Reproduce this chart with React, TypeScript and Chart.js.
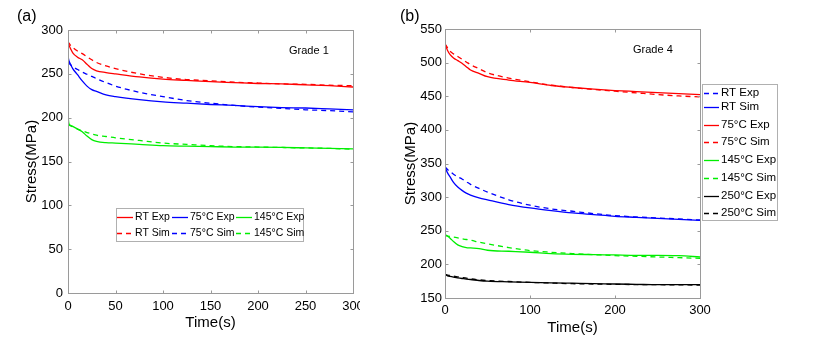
import React, { useEffect, useRef } from 'react';
import { Chart, registerables } from 'chart.js';
Chart.register(...registerables);

const FONT = "'Liberation Sans', Arial, Helvetica, sans-serif";
const AXIS_COLOR = '#9a9a9a';
const RED = '#ff0000';
const BLUE = '#0000ff';
const GREEN = '#00ee00';
const BLACK = '#000000';
const DASH = [5, 4];

// ---------- Panel (a): Grade 1 ----------
const timeA = [0, 1, 3, 5, 10, 15, 20, 25, 30, 40, 50, 75, 100, 125, 150, 175, 200, 225, 250, 275, 300];
const g1RtExp = [287, 283, 278, 274, 269, 266, 261, 256, 253.5, 251.5, 250, 246.5, 244, 242.5, 241, 240, 239, 238.5, 237.5, 236.5, 235];
const g1RtSim = [287, 285, 282, 280, 276, 273, 269.5, 266, 263, 259, 256, 250, 246, 243.5, 242, 240.5, 239.5, 238.5, 238, 237, 236.5];
const g1T75Exp = [270, 265, 260, 256, 249, 242, 236, 232, 230, 226, 224, 220.5, 218, 216.5, 215, 214, 212.5, 211.5, 211, 210, 209];
const g1T75Sim = [263, 262, 260, 258, 255, 252, 249.5, 247, 244.5, 240, 236, 229, 224, 219.5, 216.5, 214, 212, 210.5, 209, 208, 206.5];
const g1T145Exp = [203, 193, 191, 190, 187, 184, 179, 175, 173, 171.5, 171, 169.5, 168, 167.5, 167, 166.5, 166.3, 166, 165.5, 165, 164.5];
const g1T145Sim = [192, 191.5, 190.5, 189.5, 187, 185, 183, 181.5, 180, 178.5, 177, 174, 171, 169.5, 168, 167, 166.5, 166, 165.5, 165, 164];
const labelsA = ['RT Exp', 'RT Sim', '75°C Exp', '75°C Sim', '145°C Exp', '145°C Sim'];
const xTicksA = [0, 50, 100, 150, 200, 250, 300];
const yTicksA = [0, 50, 100, 150, 200, 250, 300];

// ---------- Panel (b): Grade 4 ----------
const timeB = [0, 3, 6, 10, 15, 20, 25, 30, 40, 50, 75, 100, 125, 150, 175, 200, 225, 250, 275, 300];
const g4RtExp = [345, 341, 338, 334, 330, 327, 323, 319, 313, 307.5, 296, 288, 282.5, 279, 275.5, 272.5, 270.5, 269, 267.5, 266];
const g4RtSim = [345, 336, 330, 322, 315, 310, 306, 303, 299, 296, 289, 284, 280, 276.5, 274, 271.5, 270, 268.5, 267, 265.5];
const g4T75Exp = [528, 518, 512, 507, 503, 499, 494, 489, 484, 479, 474, 470.5, 466, 463, 460.5, 458.5, 457, 455.5, 454, 452.5];
const g4T75Sim = [528, 522, 517, 513, 509, 505, 501, 497, 491, 485, 477, 471.5, 466.5, 463, 460, 457.5, 455, 452.5, 450.5, 449];
const g4T145Exp = [244, 242, 239, 234, 229, 226.5, 225, 224.5, 223.5, 221, 219.5, 218, 216, 215, 214.5, 214, 213.5, 213.5, 213, 211];
const g4T145Sim = [243, 242, 241.5, 240.5, 239.5, 238, 237, 236, 233, 230.5, 225, 220.5, 218, 216, 214.5, 213, 212, 211, 210, 209];
const g4T250Exp = [185, 183, 182, 181, 180, 179, 178, 177.5, 176, 175, 174, 173.2, 172.5, 172, 171.5, 170.8, 170.3, 169.8, 169.8, 169.8];
const g4T250Sim = [185, 184, 183.5, 182.5, 181.5, 180.5, 179.5, 178.5, 177, 176, 174.5, 173.2, 172.2, 171.3, 170.8, 170.3, 170, 169.8, 169.5, 169.3];
const labelsB = ['RT Exp', 'RT Sim', '75°C Exp', '75°C Sim', '145°C Exp', '145°C Sim', '250°C Exp', '250°C Sim'];
const xTicksB = [0, 100, 200, 300];
const yTicksB = [150, 200, 250, 300, 350, 400, 450, 500, 550];

function pts(t: number[], v: number[]) {
  return t.map((x, i) => ({ x, y: v[i] }));
}

function ds(label: string, t: number[], v: number[], color: string, dashed: boolean) {
  return {
    label,
    data: pts(t, v),
    borderColor: color,
    backgroundColor: color,
    borderWidth: 1.3,
    borderDash: dashed ? DASH : [],
    pointRadius: 0,
    cubicInterpolationMode: 'monotone' as const,
    fill: false,
  };
}

const decorPlugin = {
  id: 'decor',
  afterDraw(chart: any, _args: any, opts: any) {
    const ctx = chart.ctx as CanvasRenderingContext2D;
    const { left, right, top, bottom } = chart.chartArea;
    const L = Math.round(left) + 0.5, R = Math.round(right) + 0.5;
    const T = Math.round(top) + 0.5, B = Math.round(bottom) + 0.5;
    ctx.save();
    ctx.strokeStyle = AXIS_COLOR;
    ctx.lineWidth = 1;
    ctx.setLineDash([]);
    ctx.beginPath();
    const xs = chart.scales.x, ys = chart.scales.y;
    xs.ticks.forEach((t: any) => {
      const px = Math.round(xs.getPixelForValue(t.value)) + 0.5;
      ctx.moveTo(px, B); ctx.lineTo(px, B - 3);
      ctx.moveTo(px, T); ctx.lineTo(px, T + 3);
    });
    ys.ticks.forEach((t: any) => {
      const py = Math.round(ys.getPixelForValue(t.value)) + 0.5;
      ctx.moveTo(L, py); ctx.lineTo(L + 3, py);
      ctx.moveTo(R, py); ctx.lineTo(R - 3, py);
    });
    ctx.stroke();
    ctx.strokeRect(L, T, R - L, B - T);

    // annotation
    if (opts.note) {
      ctx.fillStyle = '#000';
      ctx.font = `${opts.note.size}px ${FONT}`;
      ctx.textBaseline = 'middle';
      ctx.textAlign = 'left';
      ctx.fillText(opts.note.text, opts.note.x, opts.note.y);
    }
    if (opts.panel) {
      ctx.fillStyle = '#000';
      ctx.font = `${opts.panel.size}px ${FONT}`;
      ctx.textBaseline = 'middle';
      ctx.textAlign = 'left';
      ctx.fillText(opts.panel.text, opts.panel.x, opts.panel.y);
    }

    // legend
    const lg = opts.legend;
    if (lg) {
      const [bx, by, bw, bh] = lg.box;
      ctx.fillStyle = '#fff';
      ctx.fillRect(bx, by, bw, bh);
      ctx.strokeStyle = '#b0b0b0';
      ctx.strokeRect(bx + 0.5, by + 0.5, bw, bh);
      ctx.font = `${lg.size}px ${FONT}`;
      ctx.textBaseline = 'middle';
      ctx.textAlign = 'left';
      lg.entries.forEach((e: any) => {
        const d = chart.data.datasets[e.ds];
        ctx.strokeStyle = d.borderColor;
        ctx.lineWidth = 1.3;
        ctx.setLineDash(d.borderDash || []);
        ctx.beginPath();
        ctx.moveTo(e.x, e.y + 0.5);
        ctx.lineTo(e.x + lg.lineLen, e.y + 0.5);
        ctx.stroke();
        ctx.setLineDash([]);
        ctx.fillStyle = '#000';
        ctx.fillText(d.label, e.x + lg.lineLen + lg.gap, e.y);
      });
    }
    ctx.restore();
  },
};

function makeScale(min: number, max: number, ticks: number[], title: string, axis: 'x' | 'y', size: number, tickPad: number, titlePad: number) {
  return {
    type: 'linear' as const,
    min,
    max,
    grid: { display: false, drawTicks: false },
    border: { display: false },
    afterBuildTicks: (s: any) => { s.ticks = ticks.map((v) => ({ value: v })); },
    afterFit: (s: any) => {
      if (axis === 'x') { s.height = size; s.paddingLeft = 0; s.paddingRight = 0; }
      else { s.width = size; s.paddingTop = 0; s.paddingBottom = 0; }
    },
    ticks: {
      color: '#000',
      font: { family: FONT, size: 13 },
      padding: tickPad,
      maxRotation: 0,
      autoSkip: false,
    },
    title: {
      display: true,
      text: title,
      color: '#000',
      font: { family: FONT, size: 15 },
      padding: axis === 'x' ? { top: 0, bottom: titlePad } : { top: titlePad, bottom: 0 },
    },
  };
}

function ChartA() {
  const ref = useRef<HTMLCanvasElement>(null);
  useEffect(() => {
    const chart = new Chart(ref.current!, {
      type: 'line',
      data: {
        datasets: [
          ds(labelsA[0], timeA, g1RtExp, RED, false),
          ds(labelsA[1], timeA, g1RtSim, RED, true),
          ds(labelsA[2], timeA, g1T75Exp, BLUE, false),
          ds(labelsA[3], timeA, g1T75Sim, BLUE, true),
          ds(labelsA[4], timeA, g1T145Exp, GREEN, false),
          ds(labelsA[5], timeA, g1T145Sim, GREEN, true),
        ],
      },
      options: {
        responsive: false,
        animation: false,
        layout: { padding: { top: 30, right: 7, left: 0, bottom: 0 } },
        scales: {
          x: makeScale(0, 300, xTicksA, 'Time(s)', 'x', 59, 6, 20),
          y: makeScale(0, 300, yTicksA, 'Stress(MPa)', 'y', 68, 5, 23),
        },
        plugins: {
          legend: { display: false },
          tooltip: { enabled: false },
          decor: {
            note: { text: 'Grade 1', x: 289, y: 51, size: 11 },
            panel: { text: '(a)', x: 17, y: 17, size: 16 },
            legend: {
              box: [116, 208, 187, 33],
              size: 10.5,
              lineLen: 16,
              gap: 2,
              entries: [
                { ds: 0, x: 117, y: 217 },
                { ds: 1, x: 117, y: 233 },
                { ds: 2, x: 172, y: 217 },
                { ds: 3, x: 172, y: 233 },
                { ds: 4, x: 236, y: 217 },
                { ds: 5, x: 236, y: 233 },
              ],
            },
          },
        } as any,
      },
      plugins: [decorPlugin],
    });
    return () => chart.destroy();
  }, []);
  return <canvas ref={ref} width={360} height={352} style={{ position: 'absolute', left: 0, top: 0, width: 360, height: 352 }} />;
}

function ChartB() {
  const ref = useRef<HTMLCanvasElement>(null);
  useEffect(() => {
    const chart = new Chart(ref.current!, {
      type: 'line',
      data: {
        datasets: [
          ds(labelsB[0], timeB, g4RtExp, BLUE, true),
          ds(labelsB[1], timeB, g4RtSim, BLUE, false),
          ds(labelsB[2], timeB, g4T75Exp, RED, false),
          ds(labelsB[3], timeB, g4T75Sim, RED, true),
          ds(labelsB[4], timeB, g4T145Exp, GREEN, false),
          ds(labelsB[5], timeB, g4T145Sim, GREEN, true),
          ds(labelsB[6], timeB, g4T250Exp, BLACK, false),
          ds(labelsB[7], timeB, g4T250Sim, BLACK, true),
        ],
      },
      options: {
        responsive: false,
        animation: false,
        layout: { padding: { top: 29, right: 130, left: 0, bottom: 0 } },
        scales: {
          x: makeScale(0, 300, xTicksB, 'Time(s)', 'x', 54, 5, 15),
          y: makeScale(150, 550, yTicksB, 'Stress(MPa)', 'y', 45, 3, 2),
        },
        plugins: {
          legend: { display: false },
          tooltip: { enabled: false },
          decor: {
            note: { text: 'Grade 4', x: 233, y: 50, size: 11 },
            panel: { text: '(b)', x: 0, y: 17, size: 16 },
            legend: {
              box: [302, 84, 75, 136],
              size: 11.5,
              lineLen: 15,
              gap: 2,
              entries: [
                { ds: 0, x: 304, y: 93 },
                { ds: 1, x: 304, y: 107 },
                { ds: 2, x: 304, y: 125 },
                { ds: 3, x: 304, y: 142 },
                { ds: 4, x: 304, y: 160 },
                { ds: 5, x: 304, y: 178 },
                { ds: 6, x: 304, y: 196 },
                { ds: 7, x: 304, y: 213 },
              ],
            },
          },
        } as any,
      },
      plugins: [decorPlugin],
    });
    return () => chart.destroy();
  }, []);
  return <canvas ref={ref} width={430} height={352} style={{ position: 'absolute', left: 400, top: 0, width: 430, height: 352 }} />;
}

export default function App() {
  useEffect(() => {
    document.body.style.margin = '0';
  }, []);
  return (
    <div style={{ position: 'relative', width: 830, height: 352, background: '#fff', overflow: 'hidden' }}>
      <ChartA />
      <ChartB />
    </div>
  );
}
